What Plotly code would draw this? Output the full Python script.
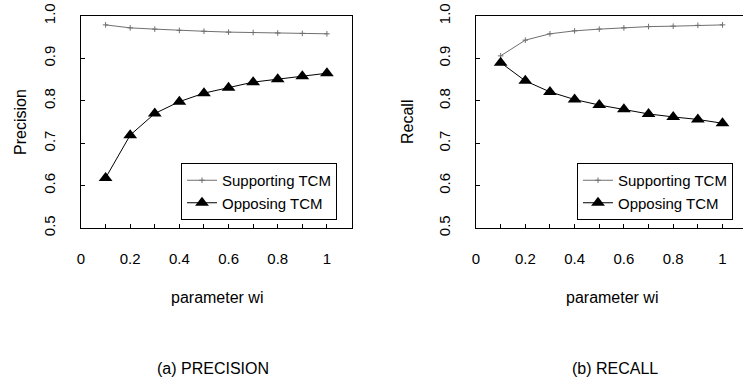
import plotly.graph_objects as go

wi = [0.1, 0.2, 0.3, 0.4, 0.5, 0.6, 0.7, 0.8, 0.9, 1.0]
prec_support = [0.979, 0.972, 0.969, 0.966, 0.964, 0.962, 0.961, 0.960, 0.959, 0.958]
prec_oppose = [0.618, 0.719, 0.770, 0.798, 0.818, 0.831, 0.844, 0.851, 0.858, 0.865]
rec_support = [0.906, 0.943, 0.958, 0.965, 0.969, 0.972, 0.975, 0.976, 0.978, 0.979]
rec_oppose = [0.890, 0.847, 0.821, 0.803, 0.790, 0.780, 0.769, 0.762, 0.756, 0.747]

x_tickvals = [0, 0.1, 0.2, 0.3, 0.4, 0.5, 0.6, 0.7, 0.8, 0.9, 1.0]
x_ticktext = ["0", "", "0.2", "", "0.4", "", "0.6", "", "0.8", "", "1"]
y_tickvals = [0.5, 0.6, 0.7, 0.8, 0.9, 1.0]
y_ticktext = ["0.5", "0.6", "0.7", "0.8", "0.9", "1.0"]

FONT = "Liberation Sans, Arial, sans-serif"
W, H = 743, 383

fig = go.Figure()

def add_pair(sup, opp, xa, ya, legend):
    fig.add_trace(go.Scatter(
        x=wi, y=sup, xaxis=xa, yaxis=ya, name="Supporting TCM", legend=legend,
        mode="lines+markers",
        line=dict(color="#707070", width=1),
        marker=dict(symbol="cross-thin", size=4, line=dict(color="#707070", width=1)),
    ))
    fig.add_trace(go.Scatter(
        x=wi, y=opp, xaxis=xa, yaxis=ya, name="Opposing TCM", legend=legend,
        mode="lines+markers",
        line=dict(color="#000000", width=1),
        marker=dict(symbol="triangle-up", size=12, color="#000000"),
    ))

add_pair(prec_support, prec_oppose, "x", "y", "legend")
add_pair(rec_support, rec_oppose, "x2", "y2", "legend2")

ydom = [(H - 228) / H, (H - 16) / H]
common_x = dict(range=[0, 1.102], tickvals=x_tickvals, ticktext=x_ticktext,
                ticks="inside", ticklen=4, tickcolor="#000", showgrid=False, zeroline=False,
                showline=True, linecolor="#000", linewidth=1, mirror=True, automargin=False,
                tickfont=dict(family=FONT, size=15, color="#000"), ticklabelstandoff=17)
common_y = dict(range=[0.5, 1.0], tickvals=y_tickvals, ticktext=y_ticktext,
                ticks="inside", ticklen=4, tickcolor="#000", showgrid=False, zeroline=False,
                showline=True, linecolor="#000", linewidth=1, automargin=False,
                tickangle=-90, tickfont=dict(family=FONT, size=15, color="#000"),
                ticklabelstandoff=19, domain=ydom)

legend_common = dict(y=(H - 163) / H, xanchor="left", yanchor="top",
                     bordercolor="#000", borderwidth=1, bgcolor="white",
                     font=dict(family=FONT, size=15, color="#000"), tracegroupgap=0)

fig.update_layout(
    template="none",
    width=W, height=H,
    margin=dict(l=0, r=0, t=0, b=0, autoexpand=False),
    paper_bgcolor="white", plot_bgcolor="white",
    xaxis=dict(common_x, domain=[81 / W, 352 / W], anchor="y"),
    yaxis=dict(common_y, anchor="x", mirror=True),
    xaxis2=dict(common_x, domain=[476 / W, 1.0], anchor="y2", range=[0, (743 - 476) / 246.5]),
    yaxis2=dict(common_y, anchor="x2", mirror=False),
    showlegend=True,
    legend=dict(legend_common, x=181 / W),
    legend2=dict(legend_common, x=577 / W),
)

ann = [
    ("Precision", 20, 122, -90),
    ("Recall", 407, 122, -90),
    ("parameter wi", 217, 297, 0),
    ("parameter wi", 612, 297, 0),
    ("(a) PRECISION", 213, 368, 0),
    ("(b) RECALL", 615, 368, 0),
]
for text, px, py, ang in ann:
    fig.add_annotation(text=text, x=px / W, y=(H - py) / H, xref="paper", yref="paper",
                       showarrow=False, textangle=ang, xanchor="center", yanchor="middle",
                       font=dict(family=FONT, size=16, color="#000"))

fig.write_html("out.html",
               config={"displayModeBar": False},
               post_script="document.body.style.margin='0px';document.body.style.overflow='hidden';")
